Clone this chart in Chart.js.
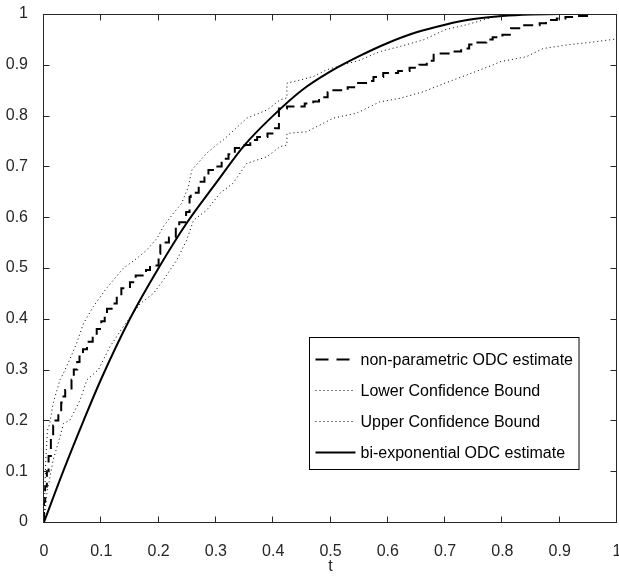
<!DOCTYPE html>
<html>
<head>
<meta charset="utf-8">
<script src="https://cdn.jsdelivr.net/npm/chart.js@4.4.1/dist/chart.umd.min.js"></script>
<style>
  body { margin: 0; background: #fff; }
  canvas { display: block; }
</style>
</head>
<body>
<canvas id="odcChart" width="619" height="576"></canvas>
<script>
// series names, in legend order
const seriesNames = ['non-parametric ODC estimate', 'Lower Confidence Bound', 'Upper Confidence Bound', 'bi-exponential ODC estimate'];

// non-parametric (empirical) estimate: jump points of the staircase
const tStep = [0, 0.002, 0.005, 0.008, 0.012, 0.016, 0.02, 0.025, 0.03, 0.034, 0.037, 0.048, 0.052, 0.058, 0.062, 0.068, 0.075, 0.085, 0.092, 0.1, 0.106, 0.11, 0.12, 0.127, 0.135, 0.15, 0.16, 0.178, 0.185, 0.2, 0.203, 0.218, 0.23, 0.236, 0.248, 0.254, 0.256, 0.27, 0.28, 0.287, 0.3, 0.31, 0.322, 0.333, 0.35, 0.36, 0.372, 0.39, 0.403, 0.41, 0.424, 0.455, 0.47, 0.48, 0.495, 0.505, 0.53, 0.545, 0.562, 0.575, 0.592, 0.618, 0.638, 0.655, 0.668, 0.68, 0.71, 0.728, 0.742, 0.753, 0.772, 0.783, 0.8, 0.815, 0.838, 0.865, 0.876, 0.895, 0.91, 0.93, 0.95, 0.97, 1];
const fStep = [0, 0.04, 0.07, 0.1, 0.13, 0.17, 0.19, 0.2, 0.22, 0.235, 0.247, 0.26, 0.28, 0.3, 0.315, 0.33, 0.34, 0.355, 0.365, 0.38, 0.395, 0.405, 0.42, 0.43, 0.445, 0.46, 0.472, 0.485, 0.496, 0.505, 0.528, 0.55, 0.56, 0.58, 0.59, 0.61, 0.64, 0.648, 0.67, 0.683, 0.693, 0.7, 0.715, 0.724, 0.736, 0.742, 0.752, 0.758, 0.765, 0.775, 0.814, 0.818, 0.824, 0.828, 0.836, 0.846, 0.85, 0.856, 0.864, 0.868, 0.876, 0.884, 0.888, 0.894, 0.9, 0.908, 0.922, 0.926, 0.932, 0.94, 0.944, 0.95, 0.954, 0.959, 0.972, 0.978, 0.982, 0.988, 0.991, 0.994, 0.996, 1, 1];

// lower confidence bound
const tLower = [0, 0.005, 0.016, 0.028, 0.034, 0.045, 0.063, 0.075, 0.095, 0.115, 0.138, 0.156, 0.168, 0.191, 0.208, 0.232, 0.249, 0.261, 0.284, 0.307, 0.33, 0.354, 0.389, 0.412, 0.424, 0.424, 0.458, 0.505, 0.546, 0.586, 0.621, 0.662, 0.7, 0.738, 0.784, 0.796, 0.842, 0.871, 0.912, 0.959, 1];
const fLower = [0, 0.056, 0.122, 0.168, 0.194, 0.2, 0.24, 0.28, 0.3, 0.345, 0.384, 0.411, 0.43, 0.45, 0.476, 0.516, 0.555, 0.594, 0.614, 0.647, 0.667, 0.706, 0.719, 0.739, 0.742, 0.765, 0.768, 0.795, 0.805, 0.827, 0.834, 0.847, 0.864, 0.88, 0.9, 0.906, 0.916, 0.932, 0.939, 0.945, 0.951];

// upper confidence bound
const tUpper = [0, 0.003, 0.006, 0.01, 0.016, 0.028, 0.034, 0.045, 0.057, 0.069, 0.086, 0.109, 0.121, 0.138, 0.162, 0.179, 0.197, 0.208, 0.226, 0.24, 0.252, 0.258, 0.284, 0.304, 0.313, 0.354, 0.389, 0.412, 0.424, 0.424, 0.447, 0.47, 0.493, 0.522, 0.551, 0.586, 0.621, 0.662, 0.7, 0.738, 0.778, 0.8, 0.82, 1];
const fUpper = [0, 0.12, 0.18, 0.194, 0.234, 0.28, 0.293, 0.32, 0.352, 0.391, 0.424, 0.46, 0.476, 0.499, 0.519, 0.535, 0.558, 0.581, 0.608, 0.627, 0.66, 0.693, 0.726, 0.745, 0.752, 0.795, 0.811, 0.831, 0.835, 0.864, 0.87, 0.877, 0.89, 0.9, 0.909, 0.926, 0.936, 0.949, 0.969, 0.979, 0.992, 0.998, 1, 1];

// bi-exponential fit
const tFit = [0, 0.035, 0.07, 0.1, 0.15, 0.2, 0.25, 0.3, 0.35, 0.4, 0.45, 0.5, 0.55, 0.6, 0.65, 0.7, 0.75, 0.8, 0.85, 0.9, 1];
const fFit = [0, 0.104, 0.202, 0.282, 0.4, 0.5, 0.59, 0.667, 0.742, 0.8, 0.85, 0.887, 0.917, 0.943, 0.964, 0.979, 0.99, 0.996, 0.999, 1, 1];

const FONT = 'Liberation Sans, Arial, Helvetica, sans-serif';
const TXT = '#262626';

function pts(xs, ys) {
    return xs.map((x, i) => ({ x: x, y: ys[i] }));
}

const lineStyles = [
    { width: 2, dash: [10, 6] },
    { width: 1, dash: [1, 3] },
    { width: 1, dash: [1, 3] },
    { width: 2, dash: [] }
];

const dataODC = {
    datasets: [
        { label: seriesNames[0], data: pts(tStep, fStep), stepped: 'after' },
        { label: seriesNames[1], data: pts(tLower, fLower) },
        { label: seriesNames[2], data: pts(tUpper, fUpper) },
        { label: seriesNames[3], data: pts(tFit, fFit), cubicInterpolationMode: 'monotone' }
    ].map((d, i) => Object.assign({
        borderColor: '#000',
        borderWidth: lineStyles[i].width,
        borderDash: lineStyles[i].dash,
        pointRadius: 0,
        fill: false,
        tension: 0
    }, d))
};

// box, inward ticks and the legend inside the axes (matlab look)
const frame = {
    id: 'frame',
    afterDraw(chart) {
        const { ctx, chartArea: a, scales: { x, y } } = chart;
        const L = a.left - 0.5, R = a.right - 0.5, T = a.top + 0.5, B = a.bottom + 0.5;
        ctx.save();
        ctx.strokeStyle = TXT;
        ctx.lineWidth = 1;
        ctx.setLineDash([]);
        ctx.strokeRect(L, T, R - L, B - T);
        ctx.beginPath();
        x.ticks.forEach(t => {
            const px = Math.round(x.getPixelForValue(t.value)) - 0.5;
            ctx.moveTo(px, B); ctx.lineTo(px, B - 6);
            ctx.moveTo(px, T); ctx.lineTo(px, T + 6);
        });
        y.ticks.forEach(t => {
            const py = Math.round(y.getPixelForValue(t.value)) + 0.5;
            ctx.moveTo(L, py); ctx.lineTo(L + 6, py);
            ctx.moveTo(R, py); ctx.lineTo(R - 6, py);
        });
        ctx.stroke();

        // legend
        ctx.font = '16px ' + FONT;
        const textW = Math.max(...seriesNames.map(s => ctx.measureText(s).width));
        const boxW = 6 + 40 + 5 + textW + 6;
        const boxH = 132;
        const bx = Math.round(a.right - 38 - boxW) + 0.5;
        const by = Math.round(a.bottom - 53 - boxH) + 0.5;
        ctx.fillStyle = '#fff';
        ctx.fillRect(bx, by, boxW, boxH);
        ctx.strokeStyle = '#000';
        ctx.strokeRect(bx, by, boxW, boxH);
        ctx.textBaseline = 'middle';
        ctx.textAlign = 'left';
        seriesNames.forEach((name, i) => {
            const cy = Math.round(by + 21 + 31 * i) + 0.5;
            ctx.beginPath();
            ctx.lineWidth = lineStyles[i].width;
            ctx.setLineDash(i === 0 ? [13, 8] : lineStyles[i].dash);
            ctx.moveTo(bx + 6, cy);
            ctx.lineTo(bx + 46, cy);
            ctx.stroke();
            ctx.fillStyle = '#000';
            ctx.fillText(name, bx + 51, cy + 1);
        });
        ctx.restore();
    }
};

const tickLabel = v => String(+v.toFixed(2));

const configODC = {
    type: 'line',
    data: dataODC,
    options: {
        responsive: false,
        animation: false,
        devicePixelRatio: 1,
        layout: { padding: { top: 14, right: 2, left: 0, bottom: 0 } },
        plugins: {
            legend: { display: false },
            tooltip: { enabled: false }
        },
        scales: {
            x: {
                type: 'linear',
                min: 0,
                max: 1,
                grid: { display: false },
                border: { display: false },
                ticks: { stepSize: 0.1, padding: 12, color: TXT, font: { family: FONT, size: 16 }, callback: tickLabel },
                title: { display: true, text: 't', color: TXT, padding: 0, font: { family: FONT, size: 16 } },
                afterFit(s) { s.height = 54; s.paddingLeft = 0; s.paddingRight = 0; }
            },
            y: {
                type: 'linear',
                min: 0,
                max: 1,
                grid: { display: false },
                border: { display: false },
                ticks: { stepSize: 0.1, padding: 8, color: TXT, font: { family: FONT, size: 16 }, callback: tickLabel },
                afterFit(s) { s.width = 44; s.paddingTop = 0; s.paddingBottom = 0; }
            }
        }
    },
    plugins: [frame]
};

new Chart(document.getElementById('odcChart').getContext('2d'), configODC);
</script>
</body>
</html>
